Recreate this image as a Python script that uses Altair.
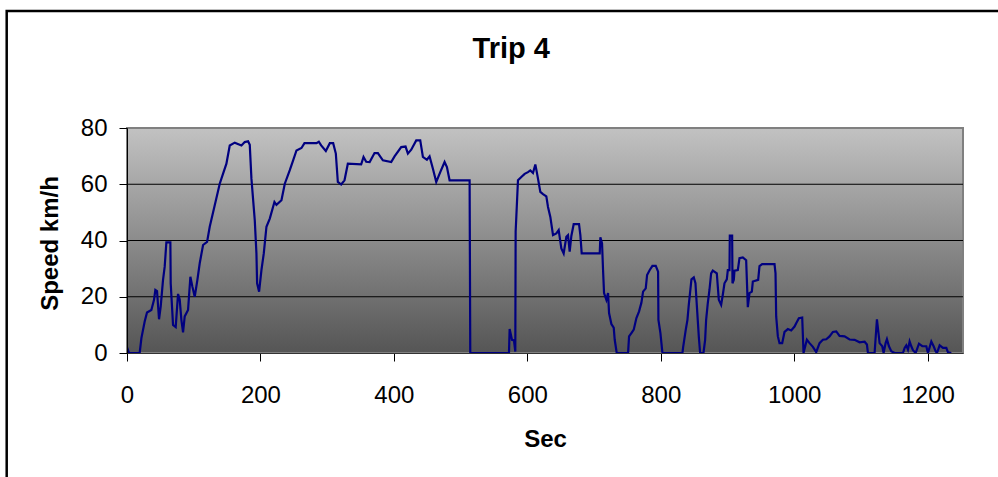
import altair as alt
import pandas as pd

# ---- data ----
sec = [0, 3, 19, 21.6, 26.5, 30, 36.5, 40.5, 42.5, 45, 48, 50.5, 54, 56.5, 59, 65, 65.5, 69, 73, 76.5,
       79, 81.5, 84, 86.5, 91.5, 95, 98, 101.5, 105.5, 109, 114, 120, 124, 131.5, 139, 144, 149, 154,
       161.5, 171.5, 176.5, 181.5, 184, 186.5, 191.5, 194, 195, 198, 201.5, 205, 209, 214, 221, 224,
       231.5, 236.5, 244, 249, 254, 261.5, 266, 284, 287.5, 291, 298, 304, 309, 313, 316, 321, 326,
       331, 351, 354.5, 358.5, 363.7, 371, 376, 383.5, 396, 401, 411, 417.5, 421, 426, 433.5, 439.5,
       443.5, 449.5, 453.5, 458.5, 463.5, 469.5, 476, 479.5, 483.5, 513.5, 514.5, 572.5, 573.5, 577,
       580, 582, 582.5, 586, 591, 596, 601, 604.5, 608.5, 612, 613.5, 616, 619.5, 623.5, 628.5, 631,
       634.5, 638.5, 643.5, 647, 651, 654.5, 658.5, 661, 663.5, 666, 669.5, 677.5, 679.5, 681.5, 708.5,
       709.5, 712, 713.5, 715, 718.5, 721, 722.5, 726, 729.5, 731, 734, 751, 752.5, 756, 759.5, 763.5,
       767.5, 771, 773.5, 777.5, 779.5, 783.5, 787.5, 792.5, 796, 796.5, 799.5, 802.5, 832.5, 833.5,
       837.5, 840, 842, 846, 849.5, 852, 854, 857, 859, 864, 866.5, 868, 870.5, 873, 875.5, 878, 884,
       887, 890.5, 893, 895.5, 899, 900.5, 903, 903.5, 907, 907.5, 909.5, 910.5, 915.5, 918, 923, 928,
       930.5, 933, 936.5, 938, 946, 948, 952, 970.5, 972, 973, 975.5, 978, 982, 985.5, 990.5, 995.5,
       1000.5, 1003, 1007, 1012, 1014, 1019, 1023, 1028, 1033, 1038, 1043, 1048, 1053, 1058, 1063,
       1068, 1075.5, 1083, 1090.5, 1098, 1105.5, 1109, 1110.5, 1120.5, 1124, 1128, 1132, 1134, 1137,
       1139, 1142, 1145.5, 1150.5, 1163, 1165.5, 1168, 1170.5, 1173, 1175.5, 1178, 1182, 1187, 1192,
       1198, 1200.5, 1205.5, 1209, 1212, 1214, 1218, 1223, 1228, 1230.5, 1235.5]

speed = [2, 0, 0, 5.3, 11.2, 14.4, 15.3, 18.9, 22.4, 22, 12, 16.5, 26, 30.7, 39.3, 39.3, 24.8, 10, 9.2, 21,
         19, 11.8, 7.3, 13, 15.3, 27.1, 23.6, 20, 26, 31.9, 38.4, 39.5, 44.9, 52.5, 60.2, 63.8, 67.3, 73.8,
         74.8, 73.8, 75, 75.3, 74, 62, 47.2, 35.4, 24.8, 21.8, 29.5, 35.4, 44.9, 47.8, 53.7, 52.7,
         54.3, 60.2, 65, 68.5, 72, 72.9, 74.6, 74.6, 75.1, 73.8, 71.8, 74.6, 74.6, 70.9, 60.8, 59.9, 61.4,
         67.3, 67.1, 69.7, 68, 67.9, 71.1, 71.1, 68.5, 67.9, 69.9, 73.2, 73.4, 70.9, 72.3, 75.6, 75.6,
         69.7, 68.7, 69.9, 65.5, 60.8, 64.3, 67.9, 66.1, 61.4, 61.4, 0, 0, 8.5, 4.7,
         4.5, 0.5, 43.1, 61.4, 62.6, 63.7, 64.3, 64.9, 64, 67, 65.2, 62, 57.3, 56.5, 55.7, 51.9,
         48.4, 41.9, 42.5, 43.7, 37.2, 35.4, 41.3, 41.9, 36, 41.6, 45.8, 45.8, 41.9, 35.4, 35.4,
         41.1, 39, 29.5, 21.3, 18.9, 21.3, 14.2, 10.3, 9, 4.7, 0, 0, 5.9, 7.1, 8.3, 12.4,
         14.8, 17.9, 21.8, 23, 27.7, 29.5, 31, 31, 28.9, 11.8, 7.1, 0, 0, 2,
         8.3, 11.8, 17.1, 26.2, 26.9, 24.8, 17.1, 5.9, 0, 0, 4.7, 11.8, 17.7, 22.4, 28.3, 29.3, 28.3,
         18.9, 17.1, 20.7, 24.8, 26.2, 29.5, 29.5, 41.7, 41.7, 24.8, 26, 29.3, 29.5, 33.7, 34, 33,
         16.3, 21.3, 21.8, 25.4, 26, 30.9, 31.6, 31.6, 28.3, 13, 5.9, 3.5, 3.5, 7.5, 8.5, 8,
         9.4, 10.6, 12.4, 12.6, 0, 4.7, 3.5, 2.2, 0.3, 3.5, 4.7, 4.9, 5.9, 7.5, 7.7,
         6.1, 5.9, 4.8, 4.7, 3.8, 4, 3, 0, 0, 12, 3.5, 2.4, 0, 3.5,
         4.9, 2.4, 0.6, 0, 0, 1.8, 2.7, 1.2, 4.1, 2.4, 1, 0, 3.3, 2.4,
         2.4, 0, 4.1, 2.4, 0.6, 0, 2.7, 1.8, 1.8, 0.2, 0]

x_domain = [0, 1253]
y_domain = [0, 80]
x_ticks = [0, 200, 400, 600, 800, 1000, 1200]
y_ticks = [0, 20, 40, 60, 80]
grid_values = [20, 40, 60]
title_text = "Trip 4"

FONT = "Liberation Sans"

trace = pd.DataFrame({"sec": sec, "speed": speed})
area = pd.DataFrame({"x0": [x_domain[0]], "x1": [x_domain[1]], "y0": [y_domain[0]], "y1": [y_domain[1]],
                     "title": [title_text]})
grid = pd.DataFrame({"g": grid_values})

xscale = alt.Scale(domain=x_domain, nice=False, zero=False)
yscale = alt.Scale(domain=y_domain, nice=False)

x_axis = alt.Axis(values=x_ticks, format="d", grid=False, tickSize=8, tickColor="black", domainColor="#333333",
                  labelFontSize=24, labelFont=FONT, labelColor="black", labelBaseline="alphabetic",
                  labelPadding=41, labelFlush=False, labelOverlap=False,
                  title="Sec", titleFont=FONT, titleFontSize=24, titleFontWeight="bold", titleColor="black",
                  titleBaseline="alphabetic", titleY=93.4, zindex=1)
y_axis = alt.Axis(values=y_ticks, format="d", grid=False, tickSize=8, tickColor="black", domainColor="black",
                  labelFontSize=24, labelFont=FONT, labelColor="black", labelPadding=12,
                  title="Speed km/h", titleFont=FONT, titleFontSize=24, titleFontWeight="bold",
                  titleColor="black", titleBaseline="alphabetic", titleX=-69.3, titleY=115,
                  titleAngle=270, titleAlign="center", zindex=1)

frame = alt.Chart(area).mark_rect(filled=False, stroke="black", strokeWidth=2.5).encode(
    x=alt.value(-120.3), y=alt.value(-117), x2=alt.value(900), y2=alt.value(400))

title = alt.Chart(area).mark_text(font=FONT, fontSize=29, fontWeight="bold", color="black",
                                  align="center", baseline="alphabetic").encode(
    text="title:N", x=alt.value(384.2), y=alt.value(-69.7))

bg = alt.Chart(area).mark_rect(
    color=alt.LinearGradient(gradient="linear",
                             stops=[alt.GradientStop(offset=0, color="#c2c2c2"),
                                    alt.GradientStop(offset=1, color="#555555")],
                             x1=0, x2=0, y1=0, y2=1),
    stroke="#808080", strokeWidth=2).encode(
    x=alt.X("x0:Q", scale=xscale, axis=x_axis),
    x2="x1:Q",
    y=alt.Y("y0:Q", scale=yscale, axis=y_axis),
    y2="y1:Q")

rules = alt.Chart(grid).mark_rule(color="black", strokeWidth=1).encode(
    y=alt.Y("g:Q", scale=yscale))

line = alt.Chart(trace).mark_line(color="#000080", strokeWidth=2.2, clip=True).encode(
    x=alt.X("sec:Q", scale=xscale),
    y=alt.Y("speed:Q", scale=yscale))

chart = alt.layer(frame, title, bg, rules, line).properties(
    width=836, height=225,
    autosize=alt.AutoSizeParams(type="none"),
    padding={"left": 127, "top": 128, "right": 35, "bottom": 124},
    background="white"
).configure_view(stroke=None)

chart.save("out.html", embed_options={"renderer": "svg", "actions": False})
